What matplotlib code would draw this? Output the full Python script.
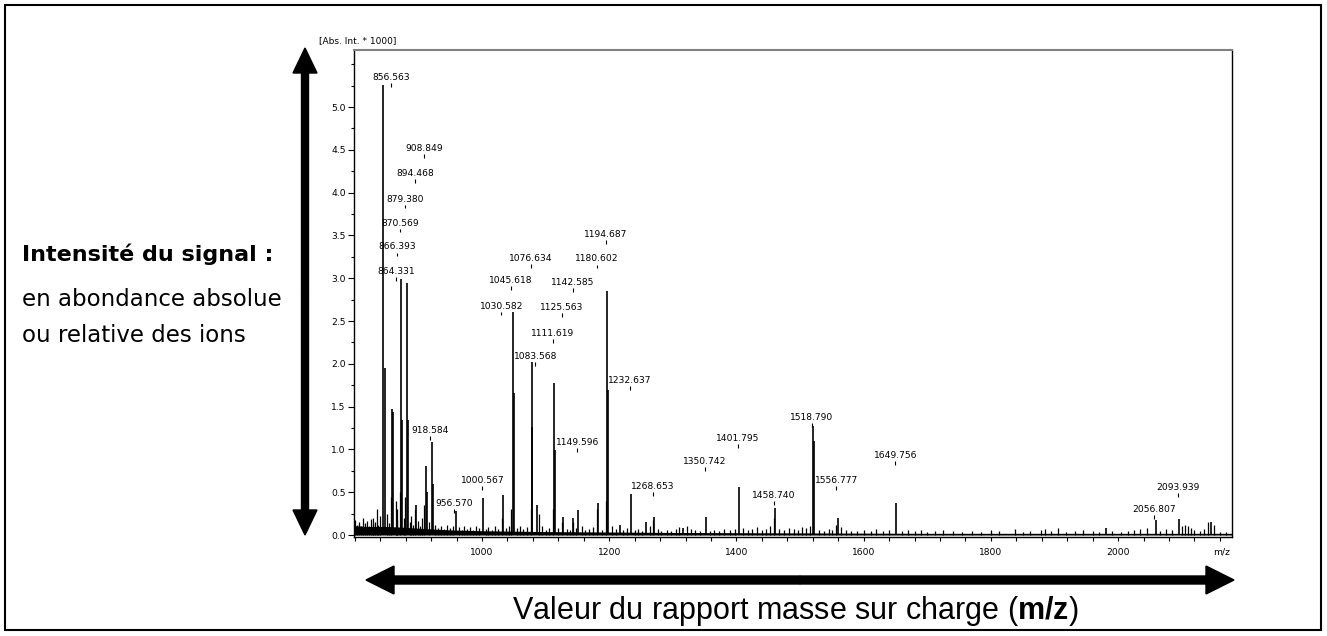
import matplotlib.pyplot as plt
from matplotlib.patches import FancyArrow, Rectangle
from matplotlib.ticker import MultipleLocator, FixedLocator, FormatStrFormatter

plt.rcParams['font.family'] = 'DejaVu Sans'
plt.rcParams['mathtext.fontset'] = 'custom'
plt.rcParams['mathtext.bf'] = 'Liberation Sans:bold'
plt.rcParams['mathtext.rm'] = 'Liberation Sans'

# main peaks: m/z and intensity (* 1000)
peak_mz = [844.8, 847.5, 859.0, 860.5, 872.6, 874.7, 881.6, 883.6, 896.0, 911.5,
           913.0, 920.9, 922.5, 958.7, 1002.0, 1032.5, 1048.2, 1049.5, 1078.0, 1079.3,
           1086.0, 1113.7, 1115.0, 1126.8, 1143.6, 1151.5, 1183.0, 1196.0, 1197.5, 1217.0,
           1233.8, 1258.0, 1271.0, 1316.6, 1351.7, 1404.0, 1460.7, 1521.0, 1522.5, 1559.0,
           1651.0, 1981.0, 2059.7, 2096.0, 2146.0]
peak_int = [5.26, 1.95, 1.47, 1.44, 2.99, 1.34, 2.94, 1.34, 0.35, 0.81,
            0.50, 1.09, 0.60, 0.28, 0.43, 0.47, 2.61, 1.66, 2.02, 1.26,
            0.35, 1.78, 0.99, 0.21, 0.20, 0.29, 0.37, 2.85, 1.69, 0.12,
            0.48, 0.15, 0.21, 0.08, 0.21, 0.56, 0.31, 1.27, 1.10, 0.20,
            0.37, 0.085, 0.18, 0.19, 0.15]

# small peaks of the noisy baseline
noise_mz = [801, 804, 807, 810, 813, 816, 819, 822, 825, 828, 829, 832, 834.5, 837, 840,
            850, 853, 856.6, 864.3, 866.4, 867, 870.6, 877, 879.4, 886, 889, 891, 894.5,
            899, 903, 906, 908.8, 916, 926, 930, 935, 940, 945, 950, 955, 963, 968, 972,
            977, 981, 986, 990, 995,
            1006, 1010, 1015, 1020, 1025, 1030.6, 1038, 1042, 1045.6, 1055, 1060, 1065,
            1070, 1076.6, 1090, 1095, 1100, 1105, 1111.6, 1120, 1125.6, 1133, 1138,
            1142.6, 1147, 1157, 1162, 1168, 1175, 1180.6, 1189, 1194.7, 1205, 1210,
            1222, 1228, 1240, 1245, 1252,
            1264, 1268.7, 1276, 1282, 1290, 1297, 1305, 1310, 1322, 1328, 1335, 1342,
            1358, 1365, 1372, 1380, 1390, 1397, 1410, 1418, 1425, 1432, 1440, 1447,
            1452, 1458.7, 1467, 1475, 1482, 1490, 1497, 1503, 1510, 1516, 1530, 1537,
            1545, 1550, 1556.8, 1565, 1572, 1580, 1590, 1600, 1612, 1620, 1630, 1640,
            1660, 1670, 1680, 1690, 1700,
            1712, 1725, 1740, 1755, 1770, 1785, 1800, 1812, 1838, 1850, 1862, 1878,
            1885, 1895, 1905, 1918, 1932, 1945, 1961, 1970, 1990, 2005, 2015, 2025,
            2035, 2045, 2066, 2075, 2085, 2100, 2105, 2110, 2115, 2120, 2128, 2135,
            2142, 2150, 2160, 2170]
noise_int = [0.18, 0.12, 0.15, 0.10, 0.20, 0.14, 0.16, 0.11, 0.19, 0.13, 0.20, 0.15, 0.30, 0.12, 0.22,
             0.25, 0.14, 0.45, 0.40, 0.30, 0.18, 0.50, 0.20, 0.45, 0.15, 0.22, 0.12, 0.30,
             0.16, 0.10, 0.20, 0.35, 0.15, 0.12, 0.08, 0.10, 0.07, 0.12, 0.08, 0.10, 0.09, 0.06, 0.10,
             0.07, 0.09, 0.06, 0.10, 0.08,
             0.07, 0.09, 0.06, 0.10, 0.07, 0.20, 0.08, 0.10, 0.30, 0.08, 0.10, 0.07,
             0.09, 0.30, 0.25, 0.10, 0.06, 0.08, 0.30, 0.08, 0.15, 0.07, 0.06,
             0.15, 0.08, 0.10, 0.06, 0.07, 0.09, 0.30, 0.06, 0.40, 0.10, 0.07,
             0.06, 0.08, 0.06, 0.07, 0.05,
             0.10, 0.18, 0.07, 0.05, 0.06, 0.05, 0.07, 0.09, 0.10, 0.07, 0.06, 0.05,
             0.05, 0.06, 0.05, 0.07, 0.06, 0.07, 0.08, 0.06, 0.07, 0.09, 0.06, 0.07,
             0.10, 0.20, 0.07, 0.06, 0.08, 0.07, 0.06, 0.09, 0.08, 0.10, 0.06, 0.05,
             0.07, 0.06, 0.12, 0.09, 0.06, 0.05, 0.05, 0.06, 0.05, 0.07, 0.05, 0.06,
             0.05, 0.06, 0.05, 0.06, 0.04,
             0.05, 0.06, 0.05, 0.04, 0.05, 0.04, 0.06, 0.05, 0.07, 0.04, 0.05, 0.06,
             0.07, 0.05, 0.08, 0.04, 0.05, 0.06, 0.05, 0.04, 0.05, 0.04, 0.05, 0.06,
             0.07, 0.08, 0.05, 0.07, 0.06, 0.10, 0.12, 0.10, 0.08, 0.06, 0.05, 0.07,
             0.15, 0.12, 0.04, 0.04]

# baseline level
base_mz = [799, 820, 850, 880, 900, 950, 1000, 1100, 1200, 1300, 1500, 1700, 2000, 2179]
base_int = [0.11, 0.10, 0.10, 0.09, 0.08, 0.06, 0.05, 0.04, 0.035, 0.03, 0.025, 0.02, 0.02, 0.02]

# annotated peaks and the height of their label marks
label_mz = [856.563, 908.849, 894.468, 879.380, 870.569, 866.393, 864.331, 918.584,
            956.570, 1000.567, 1030.582, 1045.618, 1076.634, 1083.568, 1111.619,
            1125.563, 1142.585, 1149.596, 1180.602, 1194.687, 1232.637, 1268.653,
            1350.742, 1401.795, 1458.740, 1518.790, 1556.777, 1649.756, 2056.807, 2093.939]
label_y = [5.26, 4.43, 4.14, 3.84, 3.56, 3.28, 2.99, 1.14,
           0.28, 0.55, 2.59, 2.89, 3.15, 2.00, 2.27,
           2.57, 2.86, 1.00, 3.14, 3.43, 1.72, 0.48,
           0.77, 1.04, 0.38, 1.29, 0.55, 0.84, 0.21, 0.47]

x_ticks = [1000, 1200, 1400, 1600, 1800, 2000]
y_ticks = [0.0, 0.5, 1.0, 1.5, 2.0, 2.5, 3.0, 3.5, 4.0, 4.5, 5.0]

W, H = 1327, 636
fig = plt.figure(figsize=(W / 100, H / 100), dpi=100)

# background layer in pixel coordinates for arrows, frame and texts
ov = fig.add_axes([0, 0, 1, 1], zorder=-1)
ov.set_xlim(0, W)
ov.set_ylim(H, 0)
ov.axis('off')
ov.add_patch(Rectangle((5, 5), W - 11, H - 11, fill=False, lw=1.5, ec='black'))

# double arrows (two heads each)
ov.add_patch(FancyArrow(305, 292, 0, -244, width=7, head_width=24, head_length=25,
                        length_includes_head=True, color='black'))
ov.add_patch(FancyArrow(305, 292, 0, 243, width=7, head_width=24, head_length=25,
                        length_includes_head=True, color='black'))
ov.add_patch(FancyArrow(800, 580, -434, 0, width=8, head_width=28, head_length=28,
                        length_includes_head=True, color='black'))
ov.add_patch(FancyArrow(800, 580, 434, 0, width=8, head_width=28, head_length=28,
                        length_includes_head=True, color='black'))

ov.text(22, 254, 'Intensité du signal :', fontsize=16, fontweight='bold', ha='left', va='center')
ov.text(22, 300, 'en abondance absolue', fontsize=16.5, ha='left', va='center')
ov.text(22, 336, 'ou relative des ions', fontsize=16.5, ha='left', va='center')
ov.text(795, 611, r'Valeur du rapport masse sur charge ($\mathbf{m/z}$)',
        fontsize=22, family='Liberation Sans', ha='center', va='center')

# spectrum
ax = fig.add_axes([354 / W, 1 - 537 / H, (1232 - 354) / W, (537 - 50) / H])
ax.fill_between(base_mz, 0, base_int, color='black', lw=0)
ax.vlines(noise_mz, 0, noise_int, color='black', lw=0.9)
ax.vlines(peak_mz, 0, peak_int, color='black', lw=1.2)

ax.vlines(label_mz, [y - 0.025 for y in label_y], [y + 0.02 for y in label_y], color='black', lw=0.8)
for m, y in zip(label_mz, label_y):
    ax.annotate(f'{m:.3f}', (m, y), xytext=(0, 2), textcoords='offset points',
                ha='center', va='bottom', fontsize=6.6)

ax.set_xlim(798.7, 2179)
ax.set_ylim(-0.023, 5.666)
ax.xaxis.set_major_locator(FixedLocator(x_ticks))
ax.xaxis.set_minor_locator(MultipleLocator(40))
ax.yaxis.set_major_locator(FixedLocator(y_ticks))
ax.yaxis.set_minor_locator(MultipleLocator(0.25))
ax.yaxis.set_major_formatter(FormatStrFormatter('%.1f'))
ax.tick_params(axis='both', which='both', direction='out', width=0.8, labelsize=6.6)
ax.tick_params(axis='x', which='both', length=3, pad=5)
ax.tick_params(axis='y', which='major', length=4, pad=2)
ax.tick_params(axis='y', which='minor', length=2)
for side in ['left', 'bottom', 'right']:
    ax.spines[side].set_linewidth(1.0)
ax.spines['top'].set_color('#808080')
ax.spines['top'].set_linewidth(1.5)

ax.text(-0.04, 1.01, '[Abs. Int. * 1000]', transform=ax.transAxes, fontsize=6.5, ha='left', va='bottom')
ax.text(0.988, -0.022, 'm/z', transform=ax.transAxes, fontsize=6.6, ha='center', va='top')

fig.savefig('out.png', dpi=100)
